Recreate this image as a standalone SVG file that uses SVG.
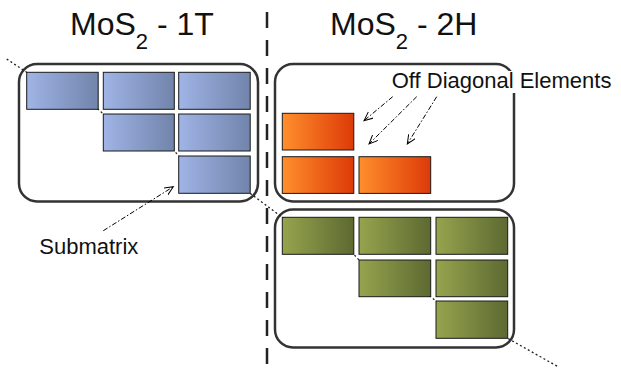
<svg xmlns="http://www.w3.org/2000/svg" width="621" height="368" viewBox="0 0 621 368">
<defs>
<linearGradient id="gBlue" x1="0" y1="0" x2="1" y2="0"><stop offset="0" stop-color="#a0b4e6"/><stop offset="1" stop-color="#7184ab"/></linearGradient>
<linearGradient id="gOrange" x1="0" y1="0" x2="1" y2="0"><stop offset="0" stop-color="#ff8f2c"/><stop offset="1" stop-color="#dd3a08"/></linearGradient>
<linearGradient id="gGreen" x1="0" y1="0" x2="1" y2="0"><stop offset="0" stop-color="#96a44e"/><stop offset="1" stop-color="#5d6931"/></linearGradient>
<marker id="arr" markerUnits="userSpaceOnUse" markerWidth="12" markerHeight="10" refX="9" refY="4" orient="auto"><path d="M0,0 L9,4 L0,8" fill="none" stroke="#000" stroke-width="1"/></marker>
<style>
.panel{fill:#fff;stroke:#333;stroke-width:2.5}
.blk{stroke:#1a1a1a;stroke-width:1}
.b{fill:url(#gBlue)}
.o{fill:url(#gOrange)}
.g{fill:url(#gGreen)}
.t{font-family:"Liberation Sans",Arial,sans-serif;fill:#111}
.arrow{fill:none;stroke:#000;stroke-width:1;stroke-dasharray:5 2 1.5 2;marker-end:url(#arr)}
.diag{fill:none;stroke:#222;stroke-width:1.3;stroke-dasharray:2 2.5}
.sep{fill:none;stroke:#222;stroke-width:2.5;stroke-dasharray:16 12}
</style>
</defs>
<rect width="621" height="368" fill="#fff"/>
<g id="panel-1t"><rect class="panel" x="19" y="64" width="239" height="137.5" rx="18"/></g>
<g id="panel-2h-off"><rect class="panel" x="275" y="64" width="239" height="137.5" rx="18"/></g>
<g id="panel-2h"><rect class="panel" x="275" y="209.5" width="239" height="138" rx="18"/></g>
<g id="connectors">
<path class="sep" d="M267,12 V368"/>
<path class="diag" d="M6.7,59 L26.7,72.3 L98.3,109.3 L103.3,114 L174.3,150.7 L178.7,156 L250,193.3 L282.3,217.3 L353.7,254.3 L359,260 L430.7,296.7 L436,301 L507.7,338.3 L558,366.7"/>
<path class="arrow" d="M103.3,230.7 L173.3,186.7"/>
<path class="arrow" d="M392.7,96.7 L364,120.7"/>
<path class="arrow" d="M416.7,96.7 L369,144"/>
<path class="arrow" d="M436.7,96.7 L407.3,144"/>
</g>
<g id="blocks-1t">
<rect class="blk b" x="26.7" y="72.3" width="71.5" height="37"/>
<rect class="blk b" x="103.3" y="72.3" width="71" height="37"/>
<rect class="blk b" x="178.7" y="72.3" width="71.5" height="37"/>
<rect class="blk b" x="103.3" y="114" width="71" height="37"/>
<rect class="blk b" x="178.7" y="114" width="71.5" height="37"/>
<rect class="blk b" x="178.7" y="156" width="71.5" height="37.3"/>
</g>
<g id="blocks-2h-off">
<rect class="blk o" x="282.3" y="113.3" width="71.5" height="36.7"/>
<rect class="blk o" x="282.3" y="156.7" width="71.5" height="36.7"/>
<rect class="blk o" x="359" y="156.7" width="71.7" height="36.7"/>
</g>
<g id="blocks-2h">
<rect class="blk g" x="282.3" y="217.3" width="71.5" height="37"/>
<rect class="blk g" x="359" y="217.3" width="71.7" height="37"/>
<rect class="blk g" x="436" y="217.3" width="71.7" height="37"/>
<rect class="blk g" x="359" y="260" width="71.7" height="36.7"/>
<rect class="blk g" x="436" y="260" width="71.7" height="36.7"/>
<rect class="blk g" x="436" y="301" width="71.7" height="37.3"/>
</g>
<g id="title-1t"><text class="t" x="70" y="35" font-size="32">MoS<tspan font-size="22" dy="14">2</tspan><tspan dy="-14"> - 1T</tspan></text></g>
<g id="title-2h"><text class="t" x="330" y="35" font-size="32">MoS<tspan font-size="22" dy="14">2</tspan><tspan dy="-14"> - 2H</tspan></text></g>
<g id="label-off"><rect x="389" y="71" width="224" height="22" fill="#fff"/><text class="t" x="391.7" y="88" font-size="22">Off Diagonal Elements</text></g>
<g id="label-sub"><text class="t" x="39.3" y="254" font-size="22">Submatrix</text></g>
</svg>
